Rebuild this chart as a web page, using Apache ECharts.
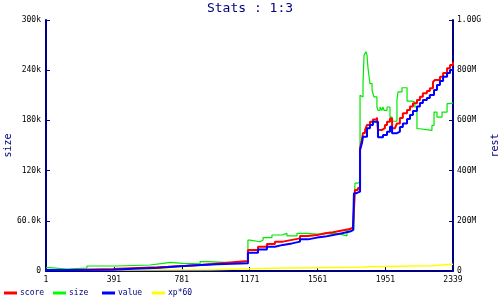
<!DOCTYPE html>
<html><head><meta charset="utf-8">
<script src="https://cdn.jsdelivr.net/npm/echarts@6/dist/echarts.min.js"></script>
<style>html,body{margin:0;padding:0;background:#fff}#c{width:500px;height:300px}</style>
</head><body><div id="c"></div>
<script>
// x positions (sample index) and values
const xTicks = [1, 391, 781, 1171, 1561, 1951, 2339];
const leftLabels = ['0', '60.0k', '120k', '180k', '240k', '300k'];   // size, in k
const rightLabels = ['0', '200M', '400M', '600M', '800M', '1.00G']; // rest, in M

const sizeX = [1,18,122,236,409,598,673,713,788,886,926,1161,1173,1230,1248,1299,1357,1385,1443,1500,1558,1650,1690,1730,1770,1776,1793,1805,1816,1822,1828,1839,1845,1851,1862,1874,1885,1902,1908,1920,1931,1937,1943,1960,1977,1989,2017,2023,2046,2075,2103,2120,2132,2149,2218,2230,2247,2276,2305,2322,2339];
const sizeK = [4.0,2.4,3.6,6.0,7.2,9.2,10.4,9.2,8.4,11.2,9.2,37,35,37,40,43,45,42,45,44,45,44,42,49,72,105,107,210,208,224,258,262,258,242,224,216,208,196,192,196,192,196,192,196,184,179,204,214,219,203,202,196,170,168,174,190,184,190,200,201,201];

const scoreX = [1,122,386,495,639,702,811,886,960,1075,1161,1219,1270,1316,1362,1414,1460,1506,1558,1604,1650,1701,1747,1765,1776,1793,1805,1816,1822,1834,1845,1862,1879,1902,1908,1931,1948,1960,1977,1989,2006,2017,2034,2051,2075,2092,2109,2132,2149,2166,2189,2206,2224,2235,2264,2282,2305,2322,2339];
const scoreM = [4,8,11,15,17,21,24,28,35,40,84,97,108,117,124,130,139,143,150,154,161,167,174,182,323,331,490,522,550,562,582,595,604,612,562,569,582,595,608,569,571,588,610,628,641,655,668,681,694,708,717,728,753,761,774,789,808,821,834];

const valueX = [1,122,386,501,656,771,868,983,1161,1219,1270,1316,1362,1414,1460,1506,1558,1604,1650,1701,1747,1765,1770,1782,1805,1816,1822,1845,1862,1879,1908,1937,1960,1977,1989,2017,2034,2051,2075,2092,2109,2132,2149,2166,2189,2206,2230,2247,2264,2282,2305,2322,2339];
const valueM = [4,5,9,13,19,23,27,31,73,86,97,104,110,117,126,133,137,143,150,157,163,166,310,316,482,510,535,569,582,595,533,542,555,575,549,555,574,588,606,622,637,655,669,681,689,701,721,741,757,774,789,801,808];

const xpX = [1,130,955,1299,1816,1851,2218,2339];
const xpM = [3,5,11,15,17,21,27,27];

const zip = (xs, ys) => xs.map((x, i) => [x, ys[i]]);
const NAVY = '#000080';
const FONT = 'DejaVu Sans Mono';

const chart = echarts.init(document.getElementById('c'), null, {renderer: 'canvas'});
function leg(name, left) {
  return {data: [name], left: left, top: 289, itemWidth: 13, itemHeight: 3, itemGap: 0,
    icon: 'rect', padding: 0, textStyle: {color: NAVY, fontFamily: FONT, fontSize: 8, padding: [0,0,0,-2]}};
}
chart.setOption({
  animation: false,
  backgroundColor: '#fff',
  title: {text: 'Stats : 1:3', left: 'center', top: -3, textStyle: {color: NAVY, fontFamily: FONT, fontSize: 13, fontWeight: 'normal'}},
  legend: [leg('score', 4), leg('size', 53), leg('value', 102), leg('xp*60', 152)],
  grid: {left: 46, right: 47, top: 20, bottom: 29, containLabel: false, outerBoundsMode: 'none'},
  xAxis: {
    type: 'value', min: 1, max: 2339,
    axisLine: {lineStyle: {color: NAVY, width: 2}},
    axisTick: {inside: true, length: 4, lineStyle: {color: NAVY}, customValues: xTicks},
    axisLabel: {color: '#000', fontFamily: FONT, fontSize: 8, margin: 5, customValues: xTicks, showMinLabel: true, showMaxLabel: true, formatter: (v) => String(v)},
    splitLine: {show: false}
  },
  yAxis: [{
    type: 'value', min: 0, max: 300, interval: 60, position: 'left',
    name: 'size', nameLocation: 'middle', nameGap: 33, nameRotate: 90, nameMoveOverlap: false,
    nameTextStyle: {color: NAVY, fontFamily: FONT, fontSize: 10},
    axisLine: {show: true, lineStyle: {color: NAVY, width: 2}},
    axisTick: {show: true, inside: true, length: 4, lineStyle: {color: NAVY}},
    axisLabel: {color: '#000', fontFamily: FONT, fontSize: 8, margin: 5, formatter: (v) => leftLabels[Math.round(v / 60)]},
    splitLine: {show: false}
  }, {
    type: 'value', min: 0, max: 1000, interval: 200, position: 'right',
    name: 'rest', nameLocation: 'middle', nameGap: 37, nameRotate: 90, nameMoveOverlap: false,
    nameTextStyle: {color: NAVY, fontFamily: FONT, fontSize: 10},
    axisLine: {show: true, lineStyle: {color: NAVY, width: 2}},
    axisTick: {show: true, inside: true, length: 4, lineStyle: {color: NAVY}},
    axisLabel: {color: '#000', fontFamily: FONT, fontSize: 8, margin: 4, formatter: (v) => rightLabels[Math.round(v / 200)]},
    splitLine: {show: false}
  }],
  series: [
    {name: 'xp*60', type: 'line', step: 'end', yAxisIndex: 1, data: zip(xpX, xpM), showSymbol: false, color: '#FFFF00', lineStyle: {width: 1.5, color: '#FFFF00'}, z: 1},
    {name: 'size', type: 'line', step: 'end', yAxisIndex: 0, data: zip(sizeX, sizeK), showSymbol: false, color: '#00FF00', lineStyle: {width: 1.2, color: '#00E800'}, z: 2},
    {name: 'score', type: 'line', step: 'end', yAxisIndex: 1, data: zip(scoreX, scoreM), showSymbol: false, color: '#FF0000', lineStyle: {width: 2, color: '#FF0000'}, z: 3},
    {name: 'value', type: 'line', step: 'end', yAxisIndex: 1, data: zip(valueX, valueM), showSymbol: false, color: '#0000FF', lineStyle: {width: 2, color: '#0000FF'}, z: 4}
  ]
});
</script></body></html>
